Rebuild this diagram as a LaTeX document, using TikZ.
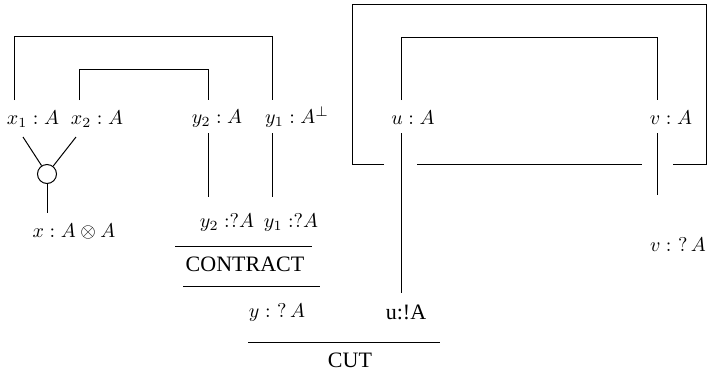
\documentclass[tikz,border=0pt]{standalone}
\usepackage{fontspec}
\newfontfamily\tms{Liberation Serif}
\begin{document}
\begin{tikzpicture}[x=0.5pt,y=-0.5pt,line width=0.5pt,
  lbl/.style={inner sep=0pt},
  rom/.style={inner sep=0pt,font=\tms\fontsize{11}{13}\selectfont},
  wire/.style={draw,line width=0.5pt}]
\useasboundingbox (0,0) rectangle (709,371);
% labels
\node[lbl] (x1) at (33,119) {$x_1 : A$};
\node[lbl] (x2) at (97,119) {$x_2 : A$};
\node[lbl] (y2) at (217,119) {$y_2 : A$};
\node[lbl] (y1) at (297,117) {$y_1 : A^{\perp}$};
\node[circle,draw,minimum size=9.5pt,inner sep=0pt] (tens) at (47,174) {};
\node[lbl] (x) at (74,231) {$x : A\otimes A$};
\node[lbl] (y2q) at (227,222) {$y_2 : ?A$};
\node[lbl] (y1q) at (291,222) {$y_1 : ?A$};
\node[rom] (contract) at (245,264) {CONTRACT};
\node[lbl] (yq) at (277,312) {$y :\ ?\,A$};
\node[rom] (ub) at (406,312) {u:!A};
\node[rom] (cut) at (350,360) {CUT};
\node[lbl] (u) at (413,118) {$u : A$};
\node[lbl] (v) at (671,118) {$v : A$};
\node[lbl] (vq) at (678,245) {$v :\ ?\,A$};
% coordinates
\coordinate (o1) at (14,100);
\coordinate (o2) at (272,100);
\coordinate (i1) at (79,100);
\coordinate (i2) at (208,100);
\coordinate (t1) at (23,137);
\coordinate (t2) at (76,137);
\coordinate (tb) at (47,213);
\coordinate (s2a) at (208,133);
\coordinate (s2b) at (208,197);
\coordinate (s1a) at (272,133);
\coordinate (s1b) at (272,197);
\coordinate (ua) at (401,133);
\coordinate (ub2) at (401,293);
\coordinate (uu) at (401,100);
\coordinate (vv) at (657,100);
\coordinate (va) at (657,133);
\coordinate (vb) at (657,195);
% left brackets
\draw (o1) -- (14,36) -- (272,36) -- (o2);
\draw (i1) -- (79,69) -- (208,69) -- (i2);
% tensor
\draw (t1) -- (tens);
\draw (t2) -- (tens);
\draw (tens.south) -- (tb);
% contract wires
\draw (s2a) -- (s2b);
\draw (s1a) -- (s1b);
% rule lines
\draw (175,246) -- (312,246);
\draw (183,286) -- (320,286);
\draw (248,342) -- (440,342);
% right part
\draw (uu) -- (401,37) -- (657,37) -- (vv);
\draw (ua) -- (ub2);
\draw (va) -- (vb);
\draw (384,164) -- (352,164) -- (352,4) -- (706,4) -- (706,164) -- (673,164);
\draw (417,164) -- (642,164);
\end{tikzpicture}
\end{document}
